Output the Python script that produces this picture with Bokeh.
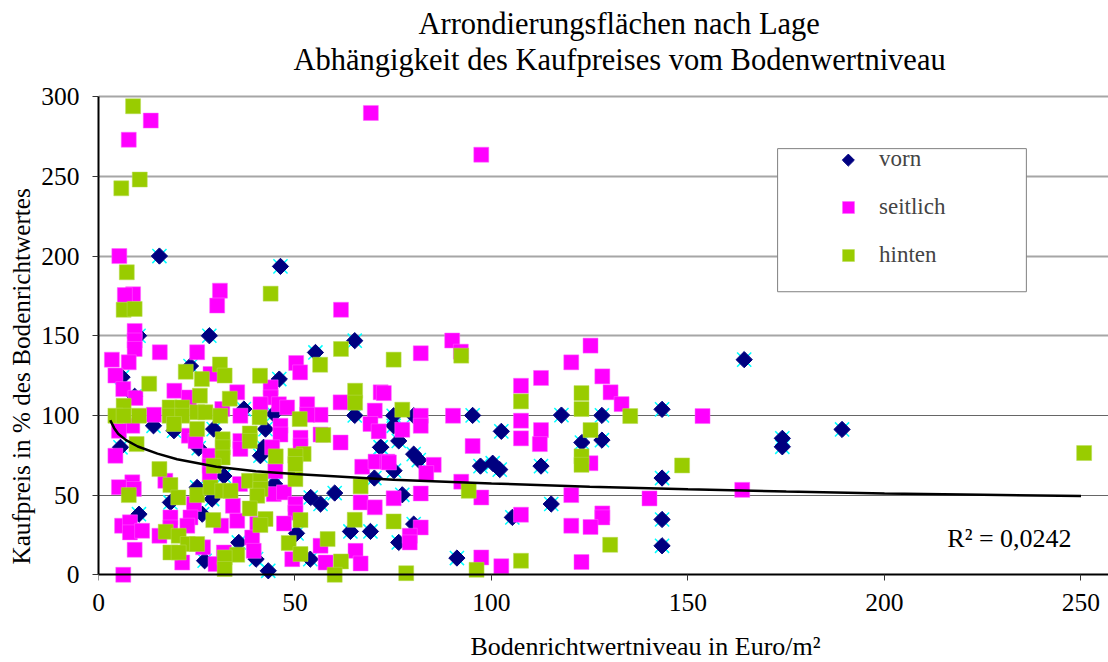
from math import pi
from bokeh.plotting import figure
from bokeh.models import Range1d, Legend, LegendItem, FixedTicker, LinearAxis, Title, Label, Grid
from bokeh.embed import file_html
from bokeh.resources import INLINE

title_1 = "Arrondierungsflächen nach Lage"
title_2 = "Abhängigkeit des Kaufpreises vom Bodenwertniveau"
x_title = "Bodenrichtwertniveau in Euro/m²"
y_title = "Kaufpreis in % des Bodenrichtwertes"
r2_text = "R² = 0,0242"
x_ticks = [0, 50, 100, 150, 200, 250]
y_ticks = [0, 50, 100, 150, 200, 250, 300]

vorn_x = [15.5,46.3,28.2,10.2,65.2,55.2,46,23.4,6,9.2,14,19.2,29.3,37,44.6,42.5,41.2,42,25.5,5.6,65.2,71.8,31.9,25.1,44.8,70.2,28.9,18.3,10.3,26.4,54,56.5,60.1,50.4,35.7,64.1,69.2,27,40.1,43.2,53.9,
          143.4,117.8,95.2,128.1,102.5,123,128.1,97.2,100.3,102.1,112.6,143.4,105.3,115.2,143.4,143.4,91.2,80.2,81.5,75.2,77.3,80.2,76.4,76.4,75.1,80.2,75.1,71.8,164.3,174,174,189.2]
vorn_y = [200,193.5,150,150,146.9,139.5,122.8,131,124,112,93.5,90.4,91.4,104,100.9,91.4,74.7,80,79.5,80,100,80,62,54.8,57,60.7,47.5,45.4,38,38,48.5,44.4,51.3,26,20.3,27.2,27.2,8.8,9.8,2.5,9.8,
          103.8,100.2,100,100,90,83,84.5,68.2,70,66,68.2,60.7,36,44.4,34.7,18.2,10.5,75.7,72,65.3,50.2,31.8,20.3,84,99.8,99.8,93.5,80,135,85.6,80.3,91.2]

seitlich_x = [13.3,7.7,69.3,97.4,5.3,8.8,6.7,30.9,30.2,61.7,9.2,9.2,9.2,15.6,25.1,3.4,7.7,50.3,51.3,4.3,28.5,19.3,6.3,9.4,23,35.3,43.8,43.8,71.8,61.6,41.2,45.9,48,53.1,56.5,53.1,14.1,70.3,69.2,71.3,8.6,5.2,36.1,31.5,23,24.7,36.1,36.1,46.3,46.3,51.4,51.4,44.2,56.5,61.6,4.3,28.3,28.3,28.3,45,67.1,70.5,73.5,8.6,5.2,9,17,36,44.6,47.2,50.1,50.1,66.7,70.3,34.2,24.3,23.4,18.3,22.6,18.3,35.3,40.4,31.2,47.2,6,8,8,11.1,9.2,15.5,21.3,26.6,31.9,29.8,39.1,39.5,49.3,56.5,57.8,65.4,66.7,6.3,
              82,90,92.2,125.2,120.3,112.6,128.2,107.5,130.3,133.1,72.6,77.3,82,82,90.2,107.5,107.5,112.6,112.3,95.2,73.9,85.3,83.4,125.2,92.3,120.3,97.4,82,75.1,107.5,128.2,128.2,125.2,120.3,82,79.2,79.2,97.4,102.5,122.9,140.2,153.7,163.8]
seitlich_y = [285,273,289.8,263.6,200,176,175.5,178.3,168.9,166.3,153,147,141.7,139.6,139.6,135,133.3,132.9,127,125,126,115.5,116.5,111,111.3,114.5,117.6,111.3,114.5,108.2,107,107,105,107,100.4,100.4,100.4,103,94.6,90,93.5,90.4,99.8,104,87.3,84,84,79,93.5,88,86,81,80,88,83,74.7,74.7,68.4,63,65,67.8,71,71,58,55,53.8,59,57,50.6,51.7,44.4,39,45.4,42.3,43.3,44.4,36,36,30.8,29.7,33.9,31.8,30.8,32.2,30.8,32.9,26.6,27.6,15.7,24.5,7.7,17.2,14,6.7,23.4,15,9.8,18.2,7.7,15,7.1,0,
              139,147,140,143.8,133.3,123.5,124.5,118.6,114.5,107.1,114,91,99.8,93.5,99.8,96.7,85.6,90.8,82,80.8,70.5,69,63.8,70,58.4,50,48.5,51,48,37.7,38.5,36,30,30.8,29.7,24.5,20.3,10.9,5.4,8,47.9,99.6,53.3]

hinten_x = [8.8,10.5,5.8,7.2,43.8,6.4,9.2,61.7,12.9,22.2,30.9,26.3,32.1,41.1,56.4,65.3,65.3,33.4,25.8,6.4,4.3,6.4,10.3,18.1,21.3,18.1,21.3,19.2,25.1,27.2,31,25.1,41,51.2,38.5,38.5,31.6,31.6,31.6,29.3,57.2,9.7,45.1,52.2,50.1,50.1,50.1,15.5,18.3,20.3,25.1,28.5,31.5,33.6,38.3,41.2,41.2,40.4,38.5,7.7,29.2,51.4,65.2,42.5,41.2,17.1,20.4,22.7,25.1,18.3,20.4,48.4,51.4,58.3,61.7,60.1,35.3,32.1,32.1,66.7,
            75.1,92.3,77.3,107.5,122.9,122.9,125.2,135.3,122.9,122.9,94.2,75.1,130.2,107.5,78.3,96.2,148.5,250.8]
hinten_y = [294,248,242.5,189.8,176.4,166.3,166.8,141.7,119.9,127.4,132,122.8,125,124.9,131.8,115.5,108,110.5,112.4,106,99.8,99.8,99.8,105,105,99.8,99.8,94.6,102,102,99.8,91.4,98.8,97.7,88.7,84,85,80,73.6,68.4,87.7,82,74.3,75.8,74.7,69.5,60,66.3,56.3,48.5,50,54.8,52.7,52.7,59,59,53.8,49.6,41.6,50,34.3,34.3,34.5,35,31.2,27,24.5,19.3,19.3,14,14,20,13,22.4,8.4,0,12.6,10.9,3.6,55.5,
            135,137.5,103.6,108.8,114,104,90.8,99.6,74.3,69,52.7,33.5,18.8,8.8,1,3.1,68.6,76.4]

trend_x = [3,4,5,7,10,15,20,30,40,50,75,100,125,150,175,200,225,250]
trend_y = [97,92,88.5,84.5,80.5,76,72.5,67.8,65,63.2,59.6,57.3,55.2,53.6,52.2,51,50.2,49.4]

legend_box_x = (172.8, 236.1)
legend_box_y = (177.6, 267.4)
legend_key_x = [190.8]
legend_key_y = [260.2]

SERIF = "Liberation Serif"
FS = "25.5px"
LS = "26px"

p = figure(width=1108, height=662, output_backend="svg", toolbar_location=None,
           x_range=Range1d(0, 257), y_range=Range1d(-6.1, 302),
           min_border_left=98, min_border_right=0, min_border_top=93, min_border_bottom=78,
           background_fill_color="white", border_fill_color="white", outline_line_color=None,
           margin=0)

p.xgrid.grid_line_color = None
p.ygrid.grid_line_color = "#A6A6A6"
p.ygrid.grid_line_width = 2
p.ygrid.ticker = FixedTicker(ticks=y_ticks[3:])
p.add_layout(Grid(dimension=1, ticker=FixedTicker(ticks=y_ticks[1:3]),
                  grid_line_color="#666666", grid_line_width=1))

xlab = p.xaxis[0]
xlab.ticker = FixedTicker(ticks=x_ticks)
xlab.axis_line_color = None
xlab.major_tick_line_color = None
xlab.minor_tick_line_color = None
xlab.major_label_text_font = SERIF
xlab.major_label_text_font_size = FS
xlab.major_label_text_color = "black"
xlab.major_label_standoff = 3

xline = LinearAxis(ticker=FixedTicker(ticks=x_ticks), fixed_location=0,
                   major_label_overrides={t: "" for t in x_ticks},
                   axis_line_color="black", axis_line_width=2,
                   major_tick_line_color="#333333", major_tick_in=0, major_tick_out=6,
                   minor_tick_line_color=None, major_label_standoff=0, major_label_text_font_size="1px")
p.add_layout(xline, "below")

def spacer(side, gap):
    p.add_layout(LinearAxis(ticker=FixedTicker(ticks=x_ticks),
                            major_label_overrides={t: "" for t in x_ticks},
                            axis_line_color=None, major_tick_line_color=None, minor_tick_line_color=None,
                            major_tick_in=0, major_tick_out=gap,
                            major_label_standoff=0, major_label_text_font_size="1px"), side)

spacer("below", 16)

ya = p.yaxis[0]
ya.ticker = FixedTicker(ticks=y_ticks)
ya.bounds = (0, 300)
ya.axis_line_color = "black"
ya.axis_line_width = 2
ya.major_tick_line_color = "#333333"
ya.major_tick_in = 0
ya.major_tick_out = 6
ya.minor_tick_line_color = None
ya.major_label_text_font = SERIF
ya.major_label_text_font_size = FS
ya.major_label_text_color = "black"
ya.major_label_standoff = 13

p.quad(left=[legend_box_x[0]], right=[legend_box_x[1]], bottom=[legend_box_y[0]], top=[legend_box_y[1]],
       fill_color="white", line_color="#808080", line_width=1)

p.scatter(vorn_x, vorn_y, marker="x", size=20, line_color="#00FFFF", line_width=1.5)
p.scatter(vorn_x, vorn_y, marker="square", angle=pi / 4, size=11.5,
          fill_color="#000080", line_color="#000080")
r_seit = p.scatter(seitlich_x, seitlich_y, marker="square", size=15,
                   fill_color="#FF00FF", line_color="#FF66FF", line_width=0.5)
r_hint = p.scatter(hinten_x, hinten_y, marker="square", size=15,
                   fill_color="#99CC00", line_color="#B8DC55", line_width=0.5)
p.line(trend_x, trend_y, line_color="black", line_width=2.5)

r_key = p.scatter(vorn_x[:0], vorn_y[:0], marker="square", fill_alpha=0, line_alpha=0)
p.scatter(legend_key_x, legend_key_y, marker="square", angle=pi / 4, size=8.5,
          fill_color="#000080", line_color="#000080")

legend = Legend(items=[LegendItem(label="vorn", renderers=[r_key]),
                       LegendItem(label="seitlich", renderers=[r_seit]),
                       LegendItem(label="hinten", renderers=[r_hint])],
                location=(730, 314), orientation="vertical",
                padding=0, margin=0, spacing=18, glyph_width=40, glyph_height=30, label_height=30,
                label_standoff=11, background_fill_alpha=0, border_line_color=None,
                label_text_font=SERIF, label_text_font_size="23px")
p.add_layout(legend)

def title(text, side, offset, standoff, size=LS, **kw):
    p.add_layout(Title(text=text, align="left", offset=offset, standoff=standoff,
                       text_font=SERIF, text_font_size=size, text_font_style="normal",
                       text_color="black", **kw), side)

spacer("above", 17)
title(title_2, "above", 195, 0, "30.5px")
title(title_1, "above", 320, 0, "30.5px")
title(x_title, "below", 372, 0, LS, text_baseline="top", vertical_align="bottom")
title(y_title, "left", 20, 7, "25.2px")

p.add_layout(Label(x=231.8, y=22.5, text=r2_text, text_font=SERIF, text_font_size=LS, text_color="black",
                   text_align="center", text_baseline="middle"))

open("out.html", "w").write(file_html(p, INLINE))
